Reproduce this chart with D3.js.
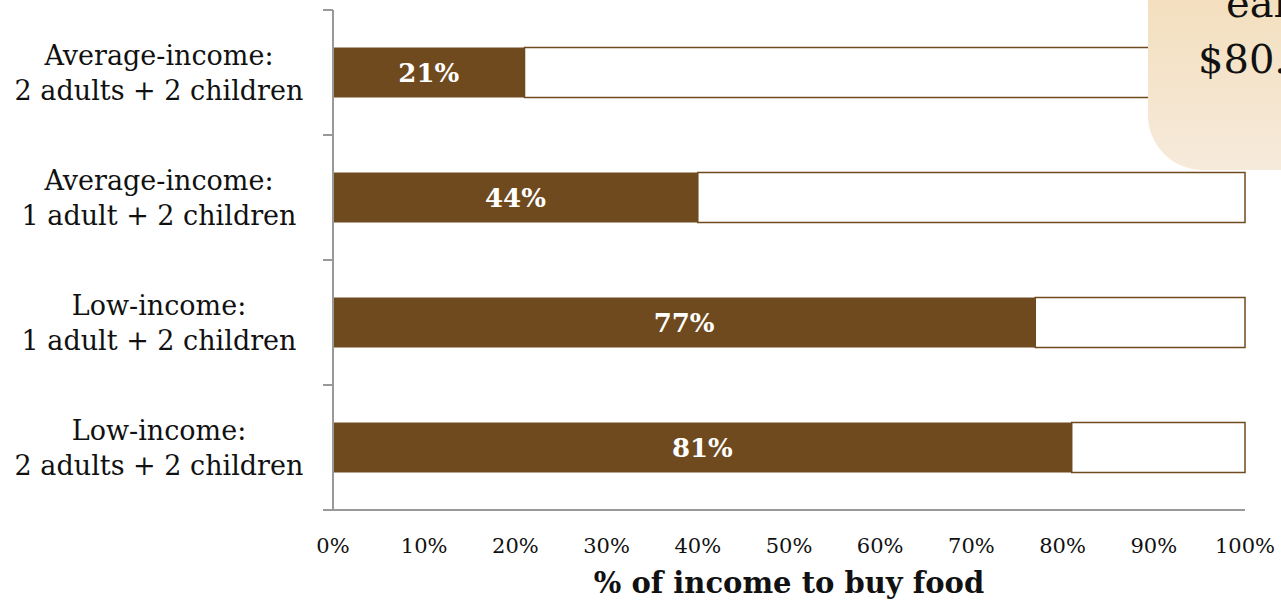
<!DOCTYPE html>
<html>
<head>
<meta charset="utf-8">
<script src="https://cdn.jsdelivr.net/npm/d3@7.9.0/dist/d3.min.js"></script>
<style>
  body { margin: 0; background: #fff; }
  svg { display: block; font-family: Georgia, "DejaVu Serif", serif; }
</style>
</head>
<body>
<svg id="chart" width="1281" height="600"></svg>
<script>
// ---------- DATA ----------
const categories = [
  ["Average-income:", "2 adults + 2 children"],
  ["Average-income:", "1 adult + 2 children"],
  ["Low-income:", "1 adult + 2 children"],
  ["Low-income:", "2 adults + 2 children"]
];
// bar length as drawn, and the label printed on it
const foodShare = [21, 40, 77, 81];
const shareLabels = ["21%", "44%", "77%", "81%"];
const xTicks = [0, 10, 20, 30, 40, 50, 60, 70, 80, 90, 100];
const calloutLines = ["ear", "$80."];

const brown = "#6f4a1e";
const axisGrey = "#999";

const svg = d3.select("#chart");
const plot = { left: 333, right: 1245, top: 10, bottom: 510 };

const x = d3.scaleLinear().domain([0, 100]).range([plot.left, plot.right]);
const y = d3.scaleBand().domain(d3.range(categories.length)).range([plot.top, plot.bottom]).paddingInner(0.6).paddingOuter(0.3);
const yTicks = d3.scaleBand().domain(d3.range(categories.length)).range([plot.top, plot.bottom]);

// ---------- BARS ----------
const rows = categories.map((c, i) => ({ i, lines: c, v: foodShare[i], label: shareLabels[i] }));

// white remainder with brown outline
svg.selectAll(".rest")
  .data(rows)
  .join("rect")
  .attr("class", "rest")
  .attr("x", d => x(d.v))
  .attr("y", d => y(d.i))
  .attr("width", d => x(100) - x(d.v))
  .attr("height", y.bandwidth())
  .attr("fill", "#fff")
  .attr("stroke", brown)
  .attr("stroke-width", 1.5);

svg.selectAll(".fill")
  .data(rows)
  .join("rect")
  .attr("class", "fill")
  .attr("x", x(0))
  .attr("y", d => y(d.i))
  .attr("width", d => x(d.v) - x(0))
  .attr("height", y.bandwidth())
  .attr("fill", brown);

svg.selectAll(".barlabel")
  .data(rows)
  .join("text")
  .attr("class", "barlabel")
  .attr("x", d => (x(0) + x(d.v)) / 2)
  .attr("y", d => y(d.i) + y.bandwidth() / 2 + 9)
  .attr("text-anchor", "middle")
  .attr("fill", "#fff")
  .attr("font-weight", "bold")
  .attr("font-size", 26)
  .text(d => d.label);

// ---------- AXES ----------
const yAxisG = svg.append("g");
yAxisG.append("line")
  .attr("x1", plot.left).attr("x2", plot.left)
  .attr("y1", plot.top).attr("y2", plot.bottom)
  .attr("stroke", axisGrey).attr("stroke-width", 2);
yAxisG.selectAll(".ytick")
  .data(d3.range(categories.length + 1))
  .join("line")
  .attr("class", "ytick")
  .attr("x1", plot.left - 10).attr("x2", plot.left)
  .attr("y1", d => plot.top + d * yTicks.step())
  .attr("y2", d => plot.top + d * yTicks.step())
  .attr("stroke", axisGrey).attr("stroke-width", 2);

const catText = yAxisG.selectAll(".cat")
  .data(rows)
  .join("text")
  .attr("class", "cat")
  .attr("text-anchor", "middle")
  .attr("font-size", 27)
  .attr("fill", "#111");
catText.selectAll("tspan")
  .data(d => d.lines.map((t, k) => ({ t, k, i: d.i })))
  .join("tspan")
  .attr("x", 159)
  .attr("y", d => y(d.i) + y.bandwidth() / 2 - 8 + d.k * 35)
  .text(d => d.t);

svg.append("line")
  .attr("x1", plot.left - 10).attr("x2", plot.right)
  .attr("y1", plot.bottom).attr("y2", plot.bottom)
  .attr("stroke", axisGrey).attr("stroke-width", 2);

svg.selectAll(".xtick")
  .data(xTicks)
  .join("text")
  .attr("class", "xtick")
  .attr("x", d => x(d))
  .attr("y", 553)
  .attr("text-anchor", "middle")
  .attr("font-size", 21)
  .attr("fill", "#111")
  .text(d => d + "%");

svg.append("text")
  .attr("x", (plot.left + plot.right) / 2)
  .attr("y", 593)
  .attr("text-anchor", "middle")
  .attr("font-size", 29)
  .attr("font-weight", "bold")
  .attr("fill", "#111")
  .text("% of income to buy food");

// ---------- CALLOUT (cut off at right edge, as in the source slide) ----------
const defs = svg.append("defs");
const grad = defs.append("linearGradient")
  .attr("id", "callout")
  .attr("x1", 0).attr("y1", 0).attr("x2", 0).attr("y2", 1);
grad.append("stop").attr("offset", "0%").attr("stop-color", "#f2d9ae");
grad.append("stop").attr("offset", "100%").attr("stop-color", "#f6eadb");

svg.append("rect")
  .attr("x", 1148).attr("y", -100)
  .attr("width", 300).attr("height", 270)
  .attr("rx", 55)
  .attr("fill", "url(#callout)");

svg.selectAll(".callout")
  .data(calloutLines)
  .join("text")
  .attr("class", "callout")
  .attr("x", (d, i) => i === 0 ? 1226 : 1198)
  .attr("y", (d, i) => 17 + i * 56)
  .attr("font-size", 40)
  .attr("fill", "#111")
  .text(d => d);
</script>
</body>
</html>
